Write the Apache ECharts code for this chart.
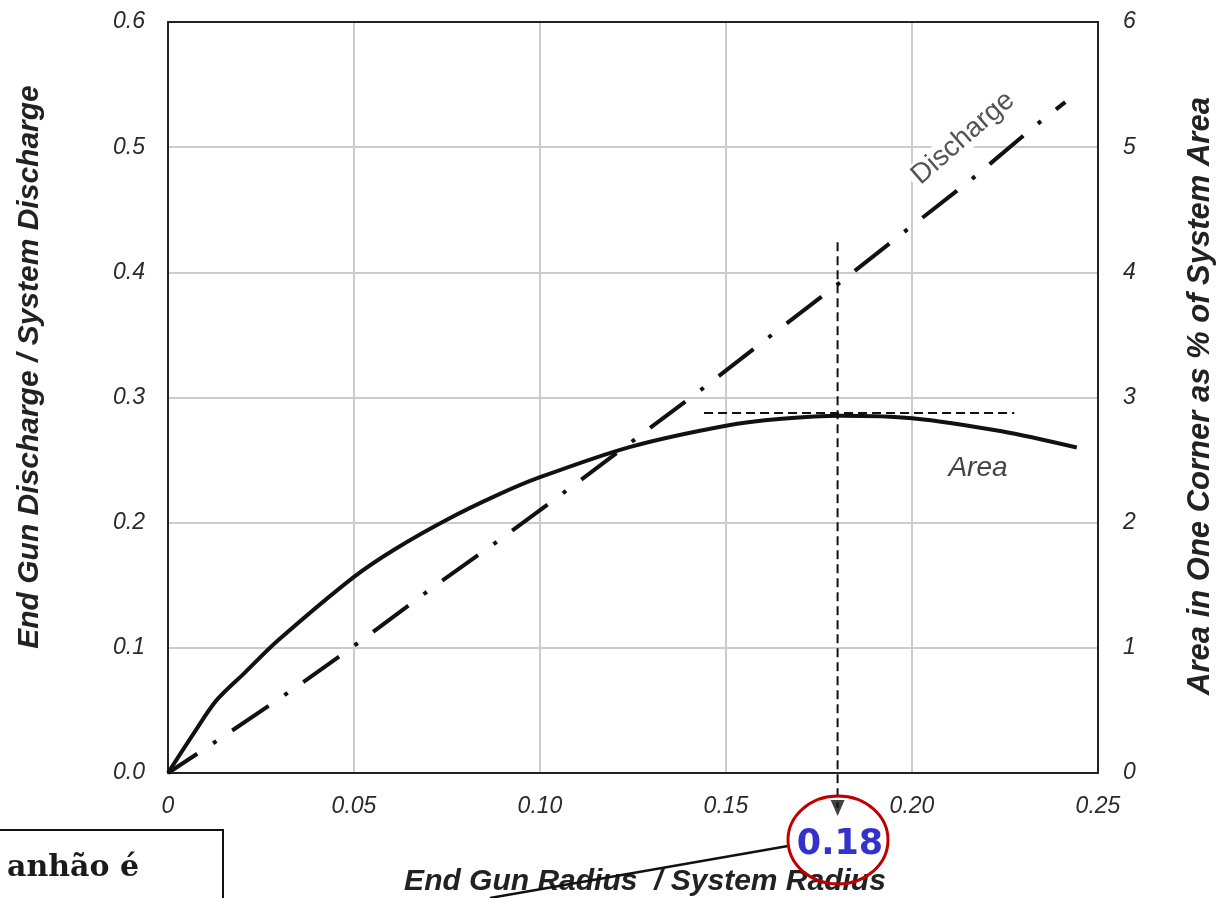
<!DOCTYPE html>
<html>
<head>
<meta charset="utf-8">
<script src="https://cdn.jsdelivr.net/npm/echarts@6/dist/echarts.min.js"></script>
<style>
  html, body { margin: 0; padding: 0; background: #fff; }
  #chart { width: 1217px; height: 898px; }
</style>
</head>
<body>
<div id="chart"></div>
<script>
// End gun radius / system radius (x) vs discharge ratio (left axis)
const dischargeX = [0, 0.0143, 0.0332, 0.0521, 0.0706, 0.0895, 0.1082, 0.1441, 0.1623, 0.1807, 0.1978, 0.2159, 0.2335, 0.2412];
const dischargeY = [0, 0.028, 0.066, 0.106, 0.147, 0.187, 0.228, 0.308, 0.350, 0.392, 0.432, 0.474, 0.518, 0.536];

// area in one corner as % of system area (right axis)
const areaX = [0, 0.007, 0.0129, 0.0206, 0.0296, 0.05, 0.0611, 0.0747, 0.0882, 0.1, 0.1243, 0.15, 0.165, 0.1808, 0.2, 0.2241, 0.2443];
const areaY = [0, 0.32, 0.576, 0.80, 1.06, 1.567, 1.79, 2.02, 2.216, 2.363, 2.606, 2.775, 2.83, 2.855, 2.835, 2.73, 2.60];

// reading of the optimum: radius 0.18, peak area ~2.88 %
const optRadius = 0.18;
const optLineY = [0.424, -0.028];
const peakArea = 2.88;
const peakLineX = [0.1441, 0.2275];

const sans = '"Liberation Sans", Arial, sans-serif';
const tickStyle = { fontFamily: sans, fontStyle: 'italic', fontSize: 23, color: '#2a2a2a' };
const borderLine = { show: true, onZero: false, lineStyle: { color: '#222', width: 2 } };
const gridLine = { show: true, showMinLine: false, showMaxLine: false, lineStyle: { color: '#cccccc', width: 2 } };

const chart = echarts.init(document.getElementById('chart'));

chart.setOption({
  animation: false,
  backgroundColor: '#fff',
  grid: { left: 168, top: 22, right: 119, bottom: 125 },
  xAxis: [
    {
      type: 'value', min: 0, max: 0.25, interval: 0.05, position: 'bottom',
      axisLine: borderLine,
      axisTick: { show: false },
      splitLine: gridLine,
      axisLabel: Object.assign({
        margin: 22, showMinLabel: true, showMaxLabel: true,
        formatter: (v) => (v === 0 ? '0' : v.toFixed(2))
      }, tickStyle)
    },
    {
      // top border only
      type: 'value', min: 0, max: 0.25, position: 'top',
      axisLine: borderLine,
      axisTick: { show: false },
      axisLabel: { show: false },
      splitLine: { show: false }
    }
  ],
  yAxis: [
    {
      type: 'value', min: 0, max: 0.6, interval: 0.1, position: 'left',
      axisLine: borderLine,
      axisTick: { show: false },
      splitLine: gridLine,
      axisLabel: Object.assign({
        margin: 23, showMinLabel: true, showMaxLabel: true,
        formatter: (v) => v.toFixed(1)
      }, tickStyle)
    },
    {
      type: 'value', min: 0, max: 6, interval: 1, position: 'right',
      axisLine: borderLine,
      axisTick: { show: false },
      splitLine: { show: false },
      axisLabel: Object.assign({
        margin: 25, showMinLabel: true, showMaxLabel: true,
        formatter: (v) => String(v)
      }, tickStyle)
    }
  ],
  series: [
    {
      name: 'Discharge',
      type: 'line',
      yAxisIndex: 0,
      data: dischargeX.map((x, i) => [x, dischargeY[i]]),
      symbol: 'none',
      z: 3,
      lineStyle: { color: '#111', width: 4, type: [44, 19, 4, 19], dashOffset: 9, cap: 'butt' }
    },
    {
      name: 'Area',
      type: 'line',
      yAxisIndex: 1,
      data: areaX.map((x, i) => [x, areaY[i]]),
      symbol: 'none',
      smooth: 0.3,
      z: 3,
      lineStyle: { color: '#111', width: 4 },
      markLine: {
        silent: true,
        symbol: 'none',
        label: { show: false },
        lineStyle: { color: '#111', width: 2, type: [9, 5] },
        data: [[{ coord: [peakLineX[0], peakArea] }, { coord: [peakLineX[1], peakArea] }]]
      }
    },
    {
      name: 'optimum',
      type: 'line',
      yAxisIndex: 0,
      data: optLineY.map((y) => [optRadius, y]),
      symbol: 'none',
      clip: false,
      z: 4,
      lineStyle: { color: '#111', width: 2, type: [9, 5] }
    },
    {
      name: 'arrow',
      type: 'scatter',
      yAxisIndex: 0,
      data: [[optRadius, optLineY[1]]],
      symbol: 'triangle',
      symbolRotate: 180,
      symbolSize: [14, 16],
      clip: false,
      z: 4,
      itemStyle: { color: '#111' }
    }
  ],
  graphic: [
    {
      type: 'text', x: 30, y: 367, rotation: Math.PI / 2,
      style: {
        text: 'End Gun Discharge / System Discharge',
        font: 'italic bold 30px ' + sans, fill: '#222',
        align: 'center', verticalAlign: 'middle'
      }
    },
    {
      type: 'text', x: 1200, y: 396, rotation: Math.PI / 2,
      style: {
        text: 'Area in One Corner as % of System Area',
        font: 'italic bold 31px ' + sans, fill: '#222',
        align: 'center', verticalAlign: 'middle'
      }
    },
    {
      type: 'text', x: 645, y: 882,
      style: {
        text: 'End Gun Radius  / System Radius',
        font: 'italic bold 30px ' + sans, fill: '#222',
        align: 'center', verticalAlign: 'middle'
      }
    },
    {
      type: 'text', x: 963, y: 138, rotation: 41 * Math.PI / 180, z: 1,
      style: {
        text: 'Discharge',
        font: '28px ' + sans, fill: '#555',
        backgroundColor: '#fff', padding: [0, 4],
        align: 'center', verticalAlign: 'middle'
      }
    },
    {
      type: 'text', x: 978, y: 468, z: 5,
      style: {
        text: 'Area',
        font: 'italic 28px ' + sans, fill: '#444',
        align: 'center', verticalAlign: 'middle'
      }
    },
    {
      type: 'rect', z: 5,
      shape: { x: -3, y: 830, width: 226, height: 100 },
      style: { fill: 'none', stroke: '#111', lineWidth: 2 }
    },
    {
      type: 'text', x: 7, y: 868, z: 5,
      style: {
        text: 'anhão é',
        font: 'bold 30px "DejaVu Serif", serif', fill: '#1a1a1a',
        align: 'left', verticalAlign: 'middle'
      }
    },
    {
      type: 'line', z: 5,
      shape: { x1: 788, y1: 846, x2: 490, y2: 898 },
      style: { stroke: '#111', lineWidth: 2.5 }
    },
    {
      type: 'ellipse', z: 6,
      shape: { cx: 838, cy: 840, rx: 50, ry: 44 },
      style: { fill: 'none', stroke: '#c00000', lineWidth: 3 }
    },
    {
      type: 'text', x: 840, y: 845, z: 6,
      style: {
        text: '0.18',
        font: 'bold 35px "DejaVu Sans", sans-serif', fill: '#3333cc',
        align: 'center', verticalAlign: 'middle'
      }
    }
  ]
});
</script>
</body>
</html>
